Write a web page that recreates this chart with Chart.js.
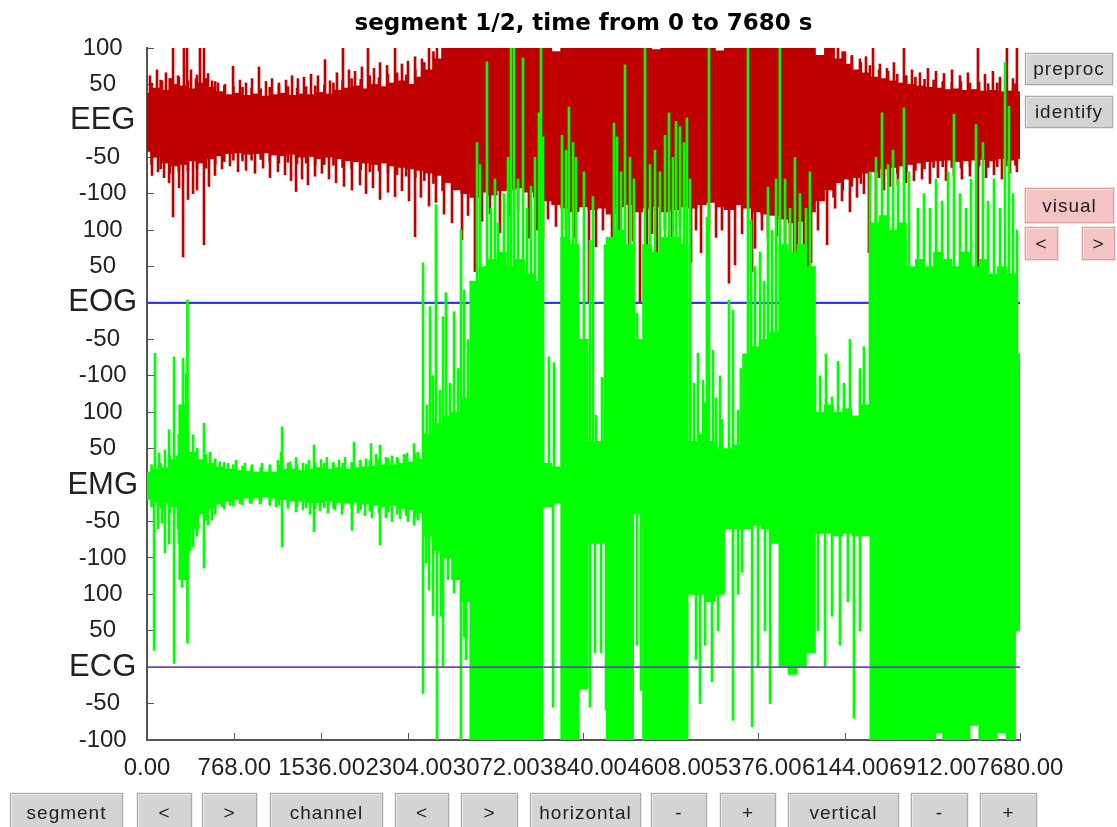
<!DOCTYPE html>
<html>
<head>
<meta charset="utf-8">
<script src="https://cdn.jsdelivr.net/npm/chart.js@4.4.0/dist/chart.umd.min.js"></script>
<style>
  html, body { margin: 0; padding: 0; background: #ffffff; overflow: hidden; }
  #wrap { position: relative; width: 1117px; height: 827px; overflow: hidden; }
  #plot { position: absolute; left: 0; top: 0; }
  .btn {
    position: absolute; box-sizing: border-box;
    display: flex; align-items: center; justify-content: center;
    background: #d4d4d4; color: #202020;
    border: 1px solid #a9a9a9;
    box-shadow: 0 0 0 1px #ececec, inset 1px 1px 0 #e9e9e9;
    font: 19px "Liberation Sans", Arial, sans-serif; letter-spacing: 1px;
  }
  .pink { background: #f4c4c4; border-color: #d7a2a2; box-shadow: 0 0 0 1px #f7dcdc, inset 1px 1px 0 #f9dede; }
</style>
</head>
<body>
<div id="wrap">
  <canvas id="plot" width="1117" height="827"></canvas>

  <div class="btn" style="left:1025px;top:53px;width:88px;height:32px;">preproc</div>
  <div class="btn" style="left:1025px;top:96px;width:88px;height:32px;">identify</div>
  <div class="btn pink" style="left:1025px;top:188px;width:89px;height:35px;">visual</div>
  <div class="btn pink" style="left:1025px;top:227px;width:33px;height:33px;">&lt;</div>
  <div class="btn pink" style="left:1082px;top:227px;width:33px;height:33px;">&gt;</div>

  <div class="btn" style="left:10px;top:793px;width:113px;height:40px;">segment</div>
  <div class="btn" style="left:137px;top:793px;width:55px;height:40px;">&lt;</div>
  <div class="btn" style="left:202px;top:793px;width:55px;height:40px;">&gt;</div>
  <div class="btn" style="left:270px;top:793px;width:113px;height:40px;">channel</div>
  <div class="btn" style="left:395px;top:793px;width:54px;height:40px;">&lt;</div>
  <div class="btn" style="left:461px;top:793px;width:57px;height:40px;">&gt;</div>
  <div class="btn" style="left:530px;top:793px;width:111px;height:40px;">horizontal</div>
  <div class="btn" style="left:651px;top:793px;width:56px;height:40px;">-</div>
  <div class="btn" style="left:720px;top:793px;width:56px;height:40px;">+</div>
  <div class="btn" style="left:788px;top:793px;width:111px;height:40px;">vertical</div>
  <div class="btn" style="left:911px;top:793px;width:57px;height:40px;">-</div>
  <div class="btn" style="left:980px;top:793px;width:57px;height:40px;">+</div>
</div>

<script>
// ---- recording, segment 1 of 2 (0 .. 7680 s) ----
const channelNames = ['EEG', 'EOG', 'EMG', 'ECG'];
const xTickStep = 768;
const segmentEnd = 7680;

// min/max envelope per 80 s bin
const coreTimes = [0,80,160,240,320,400,480,560,640,720,800,880,960,1040,1120,1200,1280,1360,1440,1520,
  1600,1680,1760,1840,1920,2000,2080,2160,2240,2320,2400,2480,2560,2640,2720,2800,2880,2960,3040,3120,
  3200,3280,3360,3440,3520,3600,3680,3760,3840,3920,4000,4080,4160,4240,4320,4400,4480,4560,4640,4720,
  4800,4880,4960,5040,5120,5200,5280,5360,5440,5520,5600,5680,5760,5840,5920,6000,6080,6160,6240,6320,
  6400,6480,6560,6640,6720,6800,6880,6960,7040,7120,7200,7280,7360,7440,7520,7600,7680];

const eegUpper = [38,45,42,50,48,44,52,46,40,36, 38,35,37,34,36,38,35,37,36,39,
  37,42,45,48,44,50,47,52,55,50, 60,70,85,100,120,120,120,120,120,120,
  120,120,120,120,120,95,120,120,120,120, 120,120,120,120,120,120,98,120,120,120,
  120,120,120,96,120,120,120,120,120,120, 100,120,120,120,90,120,85,78,70,66,
  60,58,55,52,50,48,46,45,43,44, 42,43,41,42,40,41,40];
const eegLower = [-42,-50,-58,-62,-60,-55,-58,-52,-48,-45, -44,-46,-45,-44,-47,-48,-46,-50,-49,-52,
  -50,-52,-55,-56,-58,-60,-58,-62,-64,-66, -68,-72,-75,-85,-95,-100,-105,-98,-102,-96,
  -95,-92,-98,-105,-110,-115,-120,-125,-118,-122, -120,-128,-118,-115,-125,-120,-118,-125,-122,-118,
  -120,-115,-112,-118,-122,-115,-120,-125,-128,-130, -135,-140,-138,-125,-110,-95,-85,-80,-78,-72,
  -70,-66,-64,-62,-60,-58,-56,-55,-54,-56, -55,-54,-53,-55,-52,-54,-52];

const emgUpper = [18,22,24,35,110,45,35,30,25,22, 20,19,18,18,18,22,22,20,22,24,
  22,24,22,24,25,26,28,28,30,32, 36,70,85,95,100,120,280,300,310,320,
  300,310,290,280,30,25,340,330,200,60, 60,340,350,330,200,330,320,340,340,330,
  60,70,60,50,50,55,180,190,200,210, 330,320,330,300,100,110,100,105,95,110,
  360,370,350,360,300,310,300,320,310,300, 320,300,310,290,300,290,180];
const emgLower = [-20,-22,-25,-30,-130,-60,-40,-32,-26,-22, -20,-18,-18,-17,-18,-20,-22,-22,-24,-24,
  -22,-24,-25,-24,-26,-28,-30,-28,-32,-34, -38,-70,-90,-100,-130,-160,-400,-400,-400,-400,
  -400,-400,-400,-400,-30,-25,-400,-400,-280,-80, -80,-400,-400,-400,-40,-400,-400,-400,-400,-400,
  -150,-150,-160,-150,-60,-60,-60,-55,-60,-80, -250,-260,-250,-230,-66,-66,-70,-66,-70,-70,
  -400,-400,-400,-400,-400,-400,-400,-340,-400,-400, -400,-330,-400,-400,-340,-400,-200];

// short excursions just past the envelope, half a bin later
const eegFringeTimes = [40,120,200,280,360,440,520,600,680,760,840,920,1000,1080,1160,1240,1320,1400,1480,1560,
  1640,1720,1800,1880,1960,2040,2120,2200,2280,2360,2440,2520,2600,
  6040,6120,6200,6280,6360,6440,6520,6600,6680,6760,6840,6920,7000,7080,7160,7240,7320,7400,7480,7560,7640];
const eegFringeHigh = [52,56,58,60,55,63,58,54,48,47, 46,45,44,46,48,47,45,47,48,49,
  52,55,58,57,62,59,64,66,63,70, 80,95,110,
  100,95,88,80,76,70,68,64,62,60, 57,56,54,53,54,52,53,51,52,50,51];
const eegFringeLow = [-60,-66,-72,-70,-68,-66,-65,-60,-56,-54, -55,-54,-53,-56,-58,-57,-59,-58,-61,-60,
  -61,-64,-66,-67,-70,-69,-72,-74,-76,-78, -82,-86,-96,
  -105,-95,-90,-86,-82,-78,-75,-72,-70,-68, -66,-64,-63,-64,-65,-63,-62,-64,-63,-62,-61];
const emgFringeTimes = [40,120,200,280,360,440,520,600,680,760,840,920,1000,1080,1160,1240,1320,1400,1480,1560,
  1640,1720,1800,1880,1960,2040,2120,2200,2280,2360];
const emgFringeHigh = [28,30,40,70,80,50,42,36,31,28, 26,25,24,25,28,30,28,29,31,30,
  31,30,31,33,34,36,37,38,41,44];
const emgFringeLow = [-30,-32,-38,-80,-95,-70,-48,-40,-33,-29, -27,-25,-24,-25,-27,-29,-30,-31,-32,-31,
  -32,-33,-32,-34,-36,-38,-37,-40,-42,-46];

// isolated excursions beyond the envelope
const eegPeakTimes = [26,88,132,167,211,229,273,325,352,387,431,466,501,537,572,625,686,757,818,871,
  924,985,1047,1100,1161,1223,1276,1328,1381,1443,1504,1566,1610,1671,1724,1777,1830,1891,1944,1997,
  2050,2112,2182,2243,2296,2358,2419,2481,2551,
  6079,6140,6202,6272,6325,6387,6448,6510,6571,6659,6730,6800,6870,6941,7011,7082,7152,7222,7310,7372,
  7442,7504,7565,7618,7653];
const eegPeakValues = [62,70,55,66,58,130,62,130,130,70,58,130,130,65,55,52,50,75,56,52,
  58,74,54,58,52,56,62,58,60,64,62,84,55,66,130,70,68,74,130,72,
  80,76,130,78,82,88,85,130,130,
  130,95,90,85,88,130,78,72,80,130,70,66,72,68,65,70,62,66,130,64,
  68,60,130,58,130];
const eegDipTimes = [44,97,150,194,229,282,317,361,405,440, 501,545,598,660,730,801,871,950,1021,1082,
  1152,1214,1267,1311,1364,1416,1478,1539,1601,1663, 1733,1803,1874,1927,1988,2050,2120,2182,2243,2305,
  2358,2410,2481,2542,2613,2683,2771,2824,2885,2947, 3017,3105,3193,3264,3360,3431,3484,3528,3598,3686,
  3765,3888,3950,4011,4091,4152,4240,4275,4337,4398, 4442,4486,4557,4618,4689,4786,4830,4874,4944,5006,
  5058,5120,5173,5235,5323,5349,5410,5463,5542,5613, 5657,5692,5718,5780,5815,5842,5903,5983,6053,6114,
  6184,6246,6307,6351,6413,6483,6536,6606,6677,6747, 6818,6888,6958,7029,7099,7169,7240,7310,7381,7451,
  7521,7592,7653];
const eegDipValues = [-75,-70,-78,-85,-132,-92,-187,-108,-100,-95, -170,-90,-75,-66,-62,-70,-68,-72,-65,-78,
  -70,-74,-82,-97,-80,-88,-76,-72,-80,-85, -90,-95,-88,-100,-92,-108,-98,-104,-96,-110,
  -159,-105,-117,-112,-128,-140,-163,-130,-207,-138, -128,-154,-130,-125,-161,-150,-161,-135,-145,-150,
  -160,-249,-173,-150,-160,-155,-200,-165,-250,-170, -155,-194,-150,-160,-145,-194,-150,-181,-148,-160,
  -150,-223,-198,-155,-207,-175,-150,-160,-158,-221, -276,-240,-200,-239,-232,-195,-150,-170,-120,-110,
  -125,-105,-100,-181,-160,-95,-90,-88,-85,-82, -80,-86,-78,-82,-75,-80,-76,-218,-78,-74,
  -80,-72,-70];

const emgPeakTimes = [70,106,158,194,238,264,317,343,356,405, 440,501,554,642,713,783,862,924,1012,1082,
  1152,1179,1188,1258,1311,1372,1425,1469,1531,1583, 1636,1689,1742,1821,1874,1927,1971,2015,2050,2102,
  2155,2208,2261,2287,2349,2384,2428,2463,2490,2516, 2542,2577,2604,2630,2665,2701,2736,2762,2789,2824,
  2903,2929,2991,3026,3061,3088,3140,3176,3202,3229, 3264,3308,3343,3378,3413,3448,3466,3484,3536,3580,
  3651,3686,3712,3748,3774,3844,3897,3923,3950,4003, 4029,4055,4108,4135,4170,4205,4249,4284,4311,4337,
  4381,4425,4469,4513,4557,4592,4627,4654,4689,4724, 4750,4777,4812,4847,4891,4909,4926,4944,4979,5006,
  5041,5058,5120,5155,5199,5225,5252,5287,5314,5349, 5393,5428,5463,5498,5534,5568,5613,5657,5700,5744,
  5797,5832,5876,5920,5973,6026,6079,6131,6184,6272, 6307,6360,6413,6466,6519,6563,6607,6659,6703,6738,
  6782,6835,6888,6941,6994,7047,7099,7152,7205,7249, 7293,7354,7398,7451,7504,7548,7583,7618,7653];
const emgPeakValues = [181,44,48,76,176,40,174,154,254,69, 50,85,45,32,30,34,30,28,30,28,
  34,45,80,32,38,30,34,55,35,38, 30,34,38,59,34,36,57,42,55,38,
  40,36,42,44,57,45,305,110,245,150, 385,130,231,264,140,238,160,350,268,200,
  470,440,581,380,420,360,400,450,650,600, 420,586,380,410,450,511,650,478,176,168,
  480,460,519,470,450,430,336,396,96,148, 330,52,497,478,430,577,450,420,236,190,
  650,440,460,430,480,511,450,500,492,470, 504,420,140,181,144,113,368,650,185,120,
  150,90,254,240,103,160,66,650,364,300, 320,280,409,350,420,650,420,380,450,400,
  380,430,203,150,180,121,170,140,200,160, 190,430,450,511,440,460,420,518,430,240,
  380,400,380,420,390,430,509,400,380,420, 495,470,390,420,380,580,520,400,350];
const emgDipTimes = [62,97,132,158,194,238,273,308,356,378, 405,449,501,537,572,660,730,818,906,994,
  1082,1135,1188,1240,1311,1372,1434,1469,1522,1592, 1654,1715,1803,1856,1918,1979,2050,2102,2155,2226,
  2296,2349,2384,2428,2454,2481,2516,2551,2586,2604, 2648,2701,2727,2762,2789,2806,2841,3572,3897,3941,
  3994,4038,4311,4346,4830,4865,4909,4970,5023,5155, 5199,5234,5323,5375,5437,5481,5903,5965,6026,6096,
  6166,6219,6272,6800,6932,7064,7178,7328,7469,7609];
const emgDipValues = [-227,-60,-52,-93,-81,-245,-60,-140,-217,-90, -85,-60,-114,-55,-48,-30,-28,-26,-25,-26,
  -28,-30,-85,-32,-37,-34,-40,-64,-35,-38, -34,-40,-62,-38,-42,-45,-82,-45,-50,-46,
  -50,-55,-48,-286,-107,-144,-179,-400,-180,-250, -130,-148,-90,-400,-209,-240,-115,-305,-305,-230,
  -230,-309,-220,-282,-240,-300,-220,-270,-200,-323, -150,-120,-332,-250,-200,-300,-200,-250,-180,-220,
  -160,-320,-200,-400,-400,-400,-400,-400,-400,-400];

// flat channels
const eogTimes = [0, 7680];
const eogValues = [0, 0];
const ecgTimes = [0, 7680];
const ecgValues = [0, 0];

// ---- layout of the stacked channels on one value axis ----
const rowSpan = 250;                 // 200 units of signal + one 50-unit separator
const offsets = { EEG: 0, EOG: -rowSpan, EMG: -2 * rowSpan, ECG: -3 * rowSpan };
const FONT = '"Liberation Sans", Arial, sans-serif';
const RED = '#c00000', GREEN = '#00ff00', BLUE = '#3535ff', PURPLE = '#7a40c4';

const band = (times, lo, hi, off) => times.map((t, i) => ({ x: t, y: [lo[i] + off, hi[i] + off] }));
const spikes = (times, vals, off) => times.map((t, i) => ({ x: t, y: [off, vals[i] + off] }));
const flat = (times, vals, off) => times.map((t, i) => ({ x: t, y: vals[i] + off }));

const barBase = { type: 'bar', grouped: false, borderWidth: 0, clip: 0 };

const datasets = [
  { type: 'line', label: 'ECG', data: flat(ecgTimes, ecgValues, offsets.ECG), borderColor: PURPLE,
    borderWidth: 1.6, pointRadius: 0, order: 1, clip: 0 },
  { ...barBase, label: 'EMG+', data: spikes(emgPeakTimes, emgPeakValues, offsets.EMG), backgroundColor: GREEN, barThickness: 2, order: 2 },
  { ...barBase, label: 'EMG-', data: spikes(emgDipTimes, emgDipValues, offsets.EMG), backgroundColor: GREEN, barThickness: 2, order: 2 },
  { ...barBase, label: 'EMG~', data: band(emgFringeTimes, emgFringeLow, emgFringeHigh, offsets.EMG), backgroundColor: GREEN, barThickness: 2, order: 2 },
  { ...barBase, label: 'EMG', data: band(coreTimes, emgLower, emgUpper, offsets.EMG), backgroundColor: GREEN, barThickness: 9.3, order: 3 },
  { type: 'line', label: 'EOG', data: flat(eogTimes, eogValues, offsets.EOG), borderColor: BLUE,
    borderWidth: 2.2, pointRadius: 0, order: 4, clip: 0 },
  { ...barBase, label: 'EEG+', data: spikes(eegPeakTimes, eegPeakValues, offsets.EEG), backgroundColor: RED, barThickness: 2, order: 5 },
  { ...barBase, label: 'EEG-', data: spikes(eegDipTimes, eegDipValues, offsets.EEG), backgroundColor: RED, barThickness: 2, order: 5 },
  { ...barBase, label: 'EEG~', data: band(eegFringeTimes, eegFringeLow, eegFringeHigh, offsets.EEG), backgroundColor: RED, barThickness: 2, order: 5 },
  { ...barBase, label: 'EEG', data: band(coreTimes, eegLower, eegUpper, offsets.EEG), backgroundColor: RED, barThickness: 9.3, order: 6 }
];

const isChannelCentre = v => Math.abs(v % rowSpan) < 1e-9;

new Chart(document.getElementById('plot'), {
  type: 'bar',
  data: { datasets },
  options: {
    responsive: false,
    animation: false,
    devicePixelRatio: 1,
    events: [],
    layout: { padding: { left: 0, right: 97, top: 0, bottom: 0 } },
    plugins: {
      legend: { display: false },
      tooltip: { enabled: false },
      title: {
        display: true,
        text: 'segment 1/2, time from 0 to ' + segmentEnd + ' s',
        fullSize: false,
        color: '#000000',
        font: { family: '"DejaVu Sans", sans-serif', size: 23, weight: 'bold', lineHeight: 1.2 },
        padding: { top: 10.7, bottom: 9.7 }
      }
    },
    scales: {
      x: {
        type: 'linear', min: 0, max: segmentEnd, offset: false,
        ticks: {
          stepSize: xTickStep, autoSkip: false, maxRotation: 0, minRotation: 0,
          padding: 21, color: '#222222', font: { family: FONT, size: 24 },
          callback: v => Number(v).toFixed(2)
        },
        grid: { drawOnChartArea: false, offset: false, tickLength: -7, color: '#555555', lineWidth: 1 },
        border: { color: '#555555', width: 2 },
        afterFit: s => { s.height = 87; }
      },
      y: {
        type: 'linear', min: offsets.ECG - 100, max: offsets.EEG + 100,
        ticks: {
          stepSize: 50, autoSkip: false, crossAlign: 'center', padding: 16, color: '#222222',
          font: c => ({ family: FONT, size: (c.tick && isChannelCentre(c.tick.value)) ? 31 : 24 }),
          callback: v => {
            const ch = Math.round(-v / rowSpan);
            const local = Math.round(v + ch * rowSpan);
            return local === 0 ? channelNames[ch] : String(local);
          }
        },
        grid: { drawOnChartArea: false, tickLength: -7, color: '#555555', lineWidth: 1 },
        border: { color: '#555555', width: 2 },
        afterFit: s => { s.width = 147; }
      }
    }
  }
});
</script>
</body>
</html>
